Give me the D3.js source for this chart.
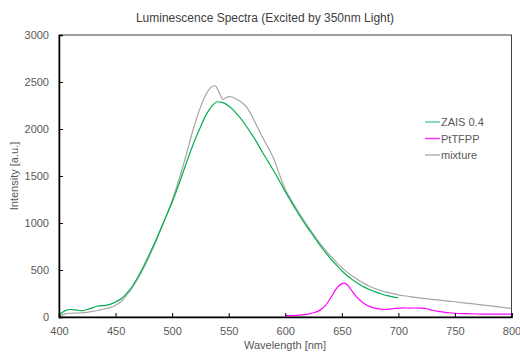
<!DOCTYPE html>
<html><head><meta charset="utf-8">
<script src="https://cdn.jsdelivr.net/npm/d3@7/dist/d3.min.js"></script>
<style>body{margin:0;background:#fff}svg{display:block}text{font-family:"Liberation Sans",Arial,sans-serif}</style>
</head><body>
<svg id="c" width="520" height="353"></svg>
<script>
const title = "Luminescence Spectra (Excited by 350nm Light)";
const xLabel = "Wavelength [nm]";
const yLabel = "Intensity [a.u.]";
const xTicks = [400,450,500,550,600,650,700,750,800];
const yTicks = [0,500,1000,1500,2000,2500,3000];
const seriesNames = ["ZAIS 0.4","PtTFPP","mixture"];

const zaisWl = [400,405,410,415,420,425,430,435,440,445,450,455,460,465,470,475,480,485,490,495,500,505,510,515,520,525,530,535,540,545,550,555,560,565,570,575,580,585,590,595,600,605,610,615,620,625,630,635,640,645,650,655,660,665,670,675,680,685,690,695,700];
const zaisVal = [20,65,80,75,68,80,100,118,122,135,160,195,255,330,430,545,670,800,940,1080,1220,1380,1550,1720,1880,2020,2150,2240,2290,2280,2245,2190,2120,2040,1950,1855,1750,1650,1550,1445,1335,1230,1130,1035,945,860,775,695,622,555,492,437,392,352,318,290,265,245,228,215,205];

const ptWl = [600,605,610,615,620,625,630,635,640,645,650,652,655,660,665,670,675,680,685,690,695,700,705,710,715,720,725,730,735,740,745,750,760,770,780,790,800];
const ptVal = [18,15,17,22,30,45,68,115,200,300,355,360,340,260,190,140,110,92,84,82,88,95,97,95,96,95,88,72,60,52,45,40,35,32,30,30,30];

const mixWl = [400,405,410,415,420,425,430,435,440,445,450,455,460,465,470,475,480,485,490,495,500,505,510,515,520,525,530,535,538,540,543,545,548,550,553,555,560,565,570,575,580,585,590,595,600,605,610,615,620,625,630,635,640,645,650,655,660,665,670,675,680,685,690,695,700,705,710,720,730,740,750,760,770,780,790,800];
const mixVal = [5,30,40,42,44,50,60,72,85,100,125,165,235,315,415,525,650,785,930,1080,1240,1420,1620,1840,2050,2230,2370,2450,2460,2430,2350,2315,2335,2345,2340,2330,2295,2245,2150,2030,1910,1800,1680,1510,1360,1250,1150,1055,965,880,795,720,650,585,525,475,430,390,355,325,300,280,262,248,236,226,217,201,187,174,162,148,135,120,105,90];

const colors = ["#00b050","#ff00ff","#a6a6a6"];
const legendColors = ["#5fd398","#ff33ff","#b0b0b0"];

const svg = d3.select("#c");
const L=59, R=511.5, T=35, B=317;
const x = d3.scaleLinear().domain([400,800]).range([L,R]);
const y = d3.scaleLinear().domain([0,3000]).range([B,T]);

svg.append("text").attr("x",265).attr("y",22).attr("text-anchor","middle")
  .attr("font-size",12).attr("fill","#404040").text(title);

const g = svg.append("g");
g.append("rect").attr("x",L).attr("y",T).attr("width",R-L).attr("height",B-T)
  .attr("fill","none").attr("stroke","#404040").attr("stroke-width",1);

svg.append("clipPath").attr("id","cp").append("rect")
  .attr("x",L).attr("y",T).attr("width",R-L).attr("height",B-T);

const line = d3.line().x(d=>x(d[0])).y(d=>y(d[1])).curve(d3.curveMonotoneX);
const data = [d3.zip(zaisWl,zaisVal), d3.zip(ptWl,ptVal), d3.zip(mixWl,mixVal)];
[2,0,1].forEach(i=>{
  g.append("path").attr("d",line(data[i])).attr("fill","none")
   .attr("stroke",colors[i]).attr("stroke-width",1.2).attr("clip-path","url(#cp)");
});

const fmt = d3.format("d");
const xAxis = d3.axisBottom(x).tickValues(xTicks).tickFormat(fmt).tickSize(-4).tickPadding(10);
const xa = svg.append("g").attr("transform",`translate(0,${B})`).call(xAxis);
xa.select(".domain").attr("stroke","#000").attr("stroke-width",1.5);
xa.selectAll(".tick line").attr("stroke","#000");
xa.selectAll("text").attr("font-size",11).attr("fill","#595959").attr("font-family","Liberation Sans, Arial, sans-serif");

const yAxis = d3.axisLeft(y).tickValues(yTicks).tickFormat(fmt).tickSize(-4).tickPadding(10);
const ya = svg.append("g").attr("transform",`translate(${L},0)`).call(yAxis);
ya.select(".domain").attr("stroke","#000").attr("stroke-width",1.5);
ya.selectAll(".tick line").attr("stroke","#000");
ya.selectAll("text").attr("font-size",11).attr("fill","#595959").attr("font-family","Liberation Sans, Arial, sans-serif");

svg.append("text").attr("x",285).attr("y",349).attr("text-anchor","middle")
  .attr("font-size",11).attr("fill","#595959").text(xLabel);
svg.append("text").attr("transform","translate(18,176) rotate(-90)").attr("text-anchor","middle")
  .attr("font-size",11).attr("fill","#595959").text(yLabel);

const lg = svg.append("g");
seriesNames.forEach((n,i)=>{
  const yy = 122 + i*16.5;
  lg.append("line").attr("x1",425).attr("x2",440).attr("y1",yy).attr("y2",yy)
    .attr("stroke",legendColors[i]).attr("stroke-width",1.5);
  lg.append("text").attr("x",441).attr("y",yy+4).attr("font-size",11).attr("fill","#595959").text(n);
});
</script>
</body></html>
